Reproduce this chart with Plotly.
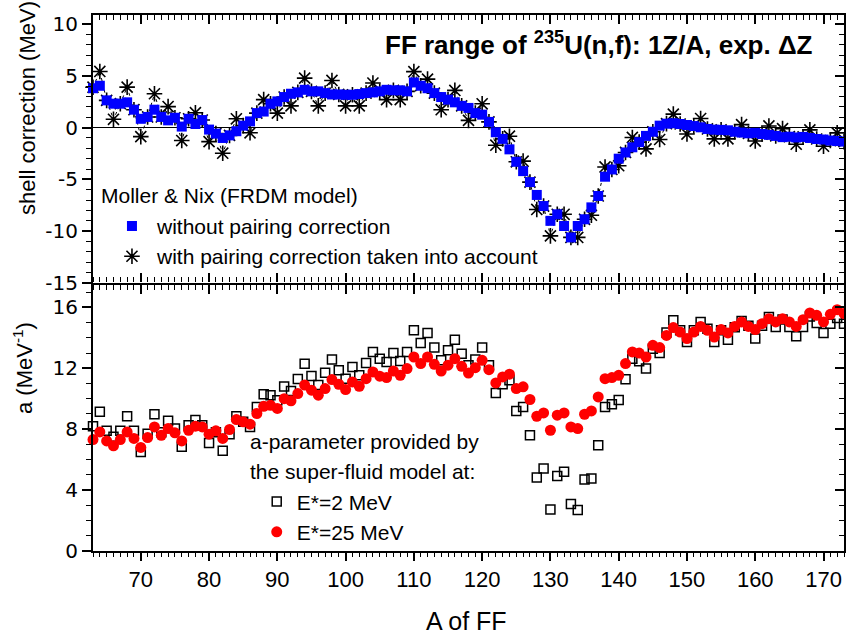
import plotly.graph_objects as go

# Mass number of the fission fragment
mass_number = list(range(63, 174))

# Shell correction (MeV), Moller & Nix FRDM model
shell_no_pairing = [
    3.80, 4.04, 2.63, 2.31, 2.31, 2.44, 1.73, 0.85, 1.03, 1.73,
    1.03, 0.70, 0.95, 0.10, 0.85, 0.35, 0.73, -0.19, -0.58, -1.00,
    -0.75, -0.35, 0.19, 0.60, 1.40, 1.55, 2.30, 2.53, 2.95, 3.27,
    3.40, 3.65, 3.50, 3.50, 3.33, 3.20, 3.20, 3.17, 3.17, 3.24,
    3.33, 3.40, 3.50, 3.65, 3.60, 3.60, 3.50, 4.36, 4.04, 3.80,
    3.33, 2.95, 2.70, 2.44, 2.10, 1.90, 1.40, 1.25, 0.55, -0.45,
    -1.09, -2.10, -3.30, -4.20, -5.26, -6.50, -7.57, -9.00, -8.37, -9.50,
    -10.60, -9.50, -8.85, -7.70, -6.60, -4.74, -4.04, -3.00, -2.40, -1.90,
    -1.40, -0.80, -0.40, 0.19, 0.38, 0.42, 0.35, 0.25, 0.15, 0.03,
    -0.13, -0.20, -0.22, -0.26, -0.40, -0.48, -0.55, -0.51, -0.62, -0.70,
    -0.80, -0.92, -0.88, -0.95, -0.90, -1.00, -1.10, -1.15, -1.25, -1.30,
    -1.35,
]
shell_with_pairing = [
    3.90, 5.42, 2.63, 0.80, 2.31, 3.91, 1.73, -0.87, 1.03, 3.27,
    1.03, 2.03, 0.95, -1.25, 0.85, 1.44, 0.73, -1.35, -0.58, -2.47,
    -0.75, 0.85, 0.19, -0.50, 1.40, 2.70, 2.30, 1.40, 2.95, 2.10,
    3.40, 4.78, 3.50, 2.10, 3.33, 4.55, 3.20, 2.10, 3.17, 2.10,
    3.33, 4.30, 3.50, 2.70, 3.60, 2.70, 3.50, 5.40, 4.04, 4.68,
    3.33, 1.73, 2.70, 3.59, 2.10, 0.70, 1.40, 2.30, 0.55, -1.70,
    -1.09, -0.83, -3.30, -3.24, -5.26, -7.90, -7.57, -10.45, -8.37, -8.37,
    -10.60, -10.60, -8.85, -8.46, -6.60, -3.80, -4.04, -3.68, -2.40, -0.95,
    -1.40, -2.05, -0.40, -1.15, 0.38, 1.30, 0.35, -0.62, 0.15, 0.88,
    -0.13, -1.09, -0.22, -1.09, -0.40, 0.29, -0.55, -1.30, -0.62, 0.16,
    -0.80, -0.10, -0.88, -1.60, -0.90, -0.22, -1.10, -1.80, -1.25, -0.51,
    -1.35,
]

# Level-density parameter a (1/MeV), super-fluid model
a_estar_2 = [
    8.20, 9.14, 7.90, 7.50, 7.90, 8.85, 7.90, 6.50, 7.70, 8.98,
    7.80, 8.55, 8.04, 6.84, 8.26, 8.60, 8.26, 7.10, 7.80, 6.58,
    7.67, 8.85, 8.48, 8.15, 9.46, 10.30, 10.23, 9.90, 10.80, 10.50,
    11.30, 12.30, 11.50, 10.90, 11.70, 12.57, 11.87, 11.32, 12.09, 11.54,
    12.35, 13.07, 12.63, 12.42, 13.00, 12.48, 13.07, 14.49, 13.66, 14.32,
    13.36, 12.52, 13.18, 13.88, 12.96, 12.20, 12.57, 13.36, 12.20, 10.38,
    10.95, 11.21, 9.20, 9.46, 7.60, 4.83, 5.42, 2.73, 4.92, 5.20,
    3.08, 2.69, 4.70, 4.76, 6.95, 9.45, 9.64, 9.92, 11.28, 12.63,
    12.46, 11.98, 13.29, 13.00, 14.35, 15.15, 14.50, 13.73, 14.50, 15.04,
    14.60, 13.73, 14.50, 13.88, 14.70, 15.10, 14.80, 13.95, 14.80, 15.37,
    14.71, 15.20, 14.71, 14.10, 14.71, 15.40, 14.97, 14.32, 14.93, 15.30,
    14.93,
]
a_estar_25 = [
    7.32, 7.82, 7.23, 6.91, 7.32, 7.82, 7.39, 6.80, 7.45, 8.15,
    7.60, 8.04, 7.76, 7.23, 7.93, 8.20, 8.15, 7.67, 7.89, 7.39,
    7.98, 8.63, 8.48, 8.33, 9.03, 9.50, 9.57, 9.36, 10.00, 9.86,
    10.34, 10.90, 10.56, 10.23, 10.67, 11.26, 10.95, 10.60, 11.10, 10.82,
    11.32, 11.76, 11.48, 11.39, 11.82, 11.54, 11.98, 12.74, 12.31, 12.74,
    12.26, 11.82, 12.20, 12.63, 12.13, 11.69, 12.04, 12.52, 11.91, 11.04,
    11.43, 11.61, 10.67, 10.78, 9.95, 8.85, 9.07, 7.93, 8.92, 9.07,
    8.15, 8.04, 8.98, 9.20, 10.12, 11.32, 11.39, 11.54, 12.31, 13.07,
    13.00, 12.74, 13.51, 13.36, 14.16, 14.67, 14.38, 13.95, 14.38, 14.75,
    14.49, 14.05, 14.54, 14.32, 14.75, 15.04, 14.75, 14.54, 14.93, 15.26,
    15.04, 15.26, 15.04, 14.75, 15.19, 15.63, 15.48, 15.04, 15.54, 15.85,
    15.59,
]

x_range = [63, 173]
shell_range = [-15, 10.87]
a_range = [0, 17.6]
shell_ticks = [-15, -10, -5, 0, 5, 10]
a_ticks = [0, 4, 8, 12, 16]

FONT = "Liberation Sans, Arial, sans-serif"
TICKFONT_Y = "DejaVu Sans, sans-serif"

fig = go.Figure()

# Upper panel: shell corrections
fig.add_trace(go.Scatter(
    x=mass_number, y=shell_with_pairing, xaxis="x2", yaxis="y2",
    mode="lines", line=dict(color="black", width=1, dash="dot"),
    showlegend=False, hoverinfo="skip", cliponaxis=False,
))
fig.add_trace(go.Scatter(
    x=mass_number, y=shell_with_pairing, xaxis="x2", yaxis="y2",
    mode="markers", name="with pairing correction taken into account",
    marker=dict(symbol="asterisk-open", size=13, color="black",
                line=dict(color="black", width=1.6)),
    legend="legend", cliponaxis=False,
))
fig.add_trace(go.Scatter(
    x=mass_number, y=shell_no_pairing, xaxis="x2", yaxis="y2",
    mode="markers", name="without pairing correction",
    marker=dict(symbol="square", size=10, color="#0000ff", line=dict(width=0)),
    legend="legend", cliponaxis=False,
))

# Lower panel: level-density parameter
fig.add_trace(go.Scatter(
    x=mass_number, y=a_estar_2, xaxis="x", yaxis="y",
    mode="markers", name="E*=2 MeV",
    marker=dict(symbol="square-open", size=9, color="black", line=dict(color="black", width=1.5)),
    legend="legend2", cliponaxis=False,
))
fig.add_trace(go.Scatter(
    x=mass_number, y=a_estar_25, xaxis="x", yaxis="y",
    mode="markers", name="E*=25 MeV",
    marker=dict(symbol="circle", size=11, color="#ff0000", line=dict(width=0)),
    legend="legend2", cliponaxis=False,
))

# Empty traces so the mirrored frame axes are laid out
fig.add_trace(go.Scatter(x=[], y=[], xaxis="x3", yaxis="y3", showlegend=False, hoverinfo="skip"))
fig.add_trace(go.Scatter(x=[], y=[], xaxis="x4", yaxis="y4", showlegend=False, hoverinfo="skip"))


def minor(direction, length):
    return dict(tickmode="linear", tick0=0, dtick=1, ticks=direction, ticklen=length,
                tickcolor="black", tickwidth=1)


base = dict(showgrid=False, zeroline=False, linecolor="black", tickcolor="black", tickwidth=1.5)

fig.update_layout(
    width=846, height=638,
    margin=dict(l=93, r=2, t=15, b=87),
    paper_bgcolor="white", plot_bgcolor="white",
    font=dict(family=FONT, size=21, color="black"),
    # lower x axis with labels
    xaxis=dict(**base, domain=[0, 1], anchor="y", range=x_range, dtick=10, tick0=0,
               ticks="outside", ticklen=8, showline=True, linewidth=2,
               minor=minor("outside", 4), tickfont=dict(size=22)),
    # upper panel bottom axis (ticks point down across the boundary)
    xaxis2=dict(**base, domain=[0, 1], anchor="y2", range=x_range, dtick=10, tick0=0,
                ticks="outside", ticklen=9, showline=True, linewidth=2, showticklabels=False,
                minor=minor("outside", 5)),
    # lower panel top axis (ticks point up across the boundary)
    xaxis3=dict(**base, overlaying="x", anchor="y", side="top", range=x_range, dtick=10, tick0=0,
                ticks="outside", ticklen=9, showline=False, showticklabels=False,
                minor=minor("outside", 5)),
    # upper panel top axis, inward ticks
    xaxis4=dict(**base, overlaying="x2", anchor="y2", side="top", range=x_range, dtick=10, tick0=0,
                ticks="inside", ticklen=9, showline=True, linewidth=2, showticklabels=False,
                minor=minor("inside", 5)),
    yaxis=dict(**base, domain=[0, 0.5], anchor="x", range=a_range,
               tickmode="array", tickvals=a_ticks, ticktext=[str(v) for v in a_ticks],
               ticks="outside", ticklen=9, showline=True, linewidth=2,
               minor=minor("outside", 5), tickfont=dict(family=TICKFONT_Y, size=20)),
    yaxis2=dict(showgrid=False, linecolor="black", tickcolor="black", tickwidth=1.5,
                domain=[0.5, 1], anchor="x2", range=shell_range,
                tickmode="array", tickvals=shell_ticks, ticktext=[str(v) for v in shell_ticks],
                ticks="outside", ticklen=9, showline=True, linewidth=2,
                zeroline=True, zerolinecolor="black", zerolinewidth=1.2,
                minor=minor("outside", 5), tickfont=dict(family=TICKFONT_Y, size=20)),
    yaxis3=dict(**base, overlaying="y", anchor="x3", side="right", range=a_range, dtick=4, tick0=0,
                ticks="inside", ticklen=9, showline=True, linewidth=2, showticklabels=False,
                minor=minor("inside", 5)),
    yaxis4=dict(**base, overlaying="y2", anchor="x4", side="right", range=shell_range, dtick=5, tick0=0,
                ticks="inside", ticklen=9, showline=True, linewidth=2, showticklabels=False,
                minor=minor("inside", 5)),
    legend=dict(x=0.0186, y=0.644, xanchor="left", yanchor="top",
                bgcolor="rgba(0,0,0,0)", font=dict(size=21), traceorder="reversed",
                itemwidth=40),
    legend2=dict(x=0.218, y=0.130, xanchor="left", yanchor="top",
                 bgcolor="rgba(0,0,0,0)", font=dict(size=21), itemwidth=30),
    showlegend=True,
)

annotations = [
    dict(text="<b>FF range of <sup>235</sup>U(n,f): 1Z/A, exp. \u0394Z</b>",
         x=0.9614, y=0.9459, xanchor="right", yanchor="middle", font=dict(size=26)),
    dict(text="Moller &amp; Nix (FRDM model)", x=0.008, y=0.664,
         xanchor="left", yanchor="middle", font=dict(size=21)),
    dict(text="a-parameter provided by", x=0.2064, y=0.2034,
         xanchor="left", yanchor="middle", font=dict(size=21)),
    dict(text="the super-fluid model at:", x=0.2064, y=0.1474,
         xanchor="left", yanchor="middle", font=dict(size=21)),
    dict(text="shell correction (MeV)", x=-0.0866, y=0.8265, textangle=-90,
         xanchor="center", yanchor="middle", font=dict(size=22)),
    dict(text="a (MeV<sup>-1</sup>)", x=-0.0932, y=0.3414, textangle=-90,
         xanchor="center", yanchor="middle", font=dict(size=22)),
    dict(text="A of FF", x=0.4967, y=-0.1306, xanchor="center", yanchor="middle",
         font=dict(size=25)),
]
for ann in annotations:
    ann.update(xref="paper", yref="paper", showarrow=False)
fig.update_layout(annotations=annotations)

fig.write_html("out.html")
